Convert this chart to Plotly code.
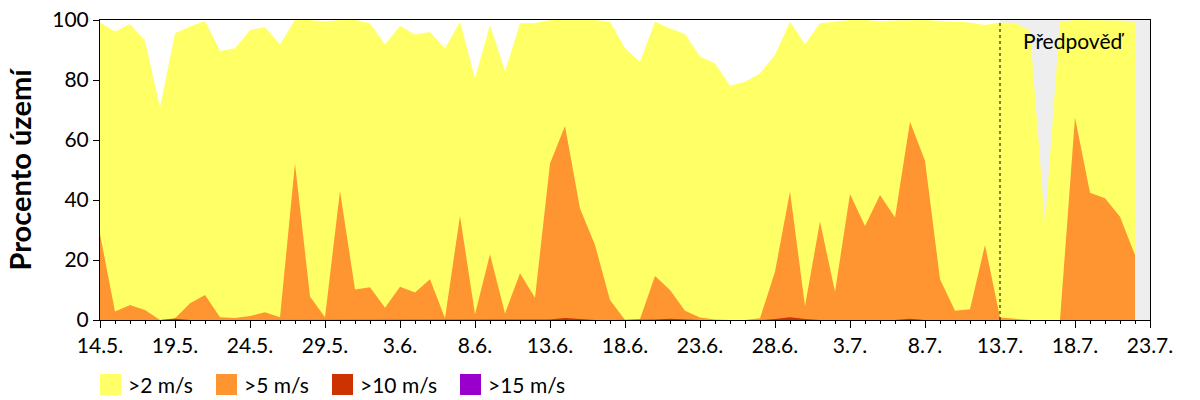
import plotly.graph_objects as go
import pandas as pd

start_date = "2023-05-14"
end_date = "2023-07-23"
forecast_start = "2023-07-13"

over2 = [99.2, 96.2, 98.7, 93.1, 70.9, 95.6, 97.8, 99.7, 89.7, 90.6,
         96.7, 97.6, 91.8, 100, 100, 99.5, 100, 100, 98.9, 91.8,
         98.0, 95.2, 96.0, 90.6, 99.4, 80.6, 98.3, 82.8, 98.9, 98.9,
         100, 100, 100, 100, 99.4, 90.6, 86.1, 99.4, 97.2, 95.3,
         87.8, 85.6, 78.1, 79.4, 82.2, 88.3, 99.4, 91.9, 98.9, 99.4,
         100, 100, 99.6, 99.8, 100, 100, 99.7, 99.4, 99.2, 98.3,
         99.2, 99.0, 96.5, 32.0, 99.4, 100, 100, 100, 99.8, 99.2]
over5 = [28.7, 2.8, 5.0, 3.3, 0, 0.6, 5.6, 8.3, 0.9, 0.7,
         1.3, 2.6, 0.9, 52.2, 7.8, 0.9, 43.0, 10.2, 10.9, 4.1,
         11.1, 9.2, 13.6, 0.6, 34.7, 1.9, 21.9, 2.2, 15.6, 7.4,
         52.2, 64.7, 37.2, 25.0, 6.7, 0, 0.3, 14.7, 10.0, 3.1,
         0.8, 0.2, 0, 0, 0.6, 16.1, 42.8, 4.7, 32.8, 9.4,
         42.0, 31.3, 41.7, 34.2, 66.1, 53.1, 13.6, 3.1, 3.6, 25.0,
         0.8, 0.5, 0, 0, 0, 67.5, 42.4, 40.6, 34.4, 21.7]
over10 = [0, 0, 0, 0, 0, 0.4, 0, 0, 0, 0,
          0, 0, 0, 0, 0, 0, 0, 0, 0, 0,
          0, 0, 0, 0, 0, 0, 0, 0, 0, 0,
          0.2, 0.7, 0.3, 0, 0, 0, 0, 0.2, 0.4, 0.1,
          0, 0, 0, 0, 0, 0.3, 0.9, 0.3, 0, 0,
          0, 0, 0, 0, 0.4, 0, 0, 0, 0, 0,
          0, 0, 0, 0, 0, 0, 0, 0, 0, 0]
over15 = [0] * 70

series_names = [">2 m/s", ">5 m/s", ">10 m/s", ">15 m/s"]
series_values = [over2, over5, over10, over15]
series_colors = ["#FFFF66", "#FF9530", "#CC3300", "#9900CC"]

dates = pd.date_range(start_date, periods=len(over2), freq="D")

FONT = "Lato"
fig = go.Figure()
for name, vals, col in zip(series_names, series_values, series_colors):
    fig.add_trace(go.Scatter(x=dates, y=vals, mode="lines", fill="tozeroy", name=name,
                             fillcolor=col, line=dict(width=0, color=col),
                             showlegend=False, hoverinfo="skip"))

# forecast background and separator
fig.add_shape(type="rect", xref="x", yref="y", x0=forecast_start, x1=end_date,
              y0=0, y1=100, fillcolor="#EEEEEE", line=dict(width=0), layer="below")
fig.add_shape(type="line", xref="x", yref="y", x0=forecast_start, x1=forecast_start,
              y0=0, y1=100, line=dict(color="black", width=1, dash="3px,3px"))
fig.add_annotation(text="Předpověď", xref="paper", yref="paper", x=0.9276, y=0.93,
                   xanchor="center", yanchor="middle", showarrow=False,
                   font=dict(family=FONT, size=21, color="#000"))

# manual legend (pixel layout converted to paper coords)
W, H, L, T = 1050.0, 300.0, 100.0, 20.0
def px(xp):
    return (xp - L) / W
def py(yp):
    return (T + H - yp) / H
legend_x = [100, 216, 332, 460]
for xs, name, col in zip(legend_x, series_names, series_colors):
    fig.add_shape(type="rect", xref="paper", yref="paper", x0=px(xs), x1=px(xs + 21),
                  y0=py(395), y1=py(374), fillcolor=col, line=dict(width=0))
    fig.add_annotation(text=name, xref="paper", yref="paper", x=px(xs + 26), y=py(384.5),
                       xanchor="left", yanchor="middle", showarrow=False,
                       font=dict(family=FONT, size=21, color="#000"))

fig.update_layout(
    width=1200, height=400,
    margin=dict(l=100, r=50, t=20, b=80),
    paper_bgcolor="white", plot_bgcolor="white",
    font=dict(family=FONT, size=21, color="#000"),
    showlegend=False,
    xaxis=dict(type="date", range=[start_date, end_date], tickformat="%-d.%-m.",
               tick0=start_date, dtick=5 * 86400000, ticks="outside", ticklen=7,
               tickcolor="black", showline=True, linecolor="black", linewidth=1,
               mirror=True, showgrid=False, zeroline=False, automargin=False,
               tickfont=dict(family=FONT, size=21, color="#000"),
               minor=dict(dtick=86400000, ticks="outside", ticklen=3, tickcolor="black",
                          showgrid=False)),
    yaxis=dict(range=[0, 100], dtick=20, ticks="outside", ticklen=6, tickcolor="black",
               showline=True, linecolor="black", linewidth=1, mirror=True,
               showgrid=False, zeroline=False, automargin=False,
               tickfont=dict(family=FONT, size=21, color="#000"),
               title=dict(text="<b>Procento území</b>", standoff=12,
                          font=dict(family=FONT, size=29, color="#000"))),
)

fig.write_html("out.html")
